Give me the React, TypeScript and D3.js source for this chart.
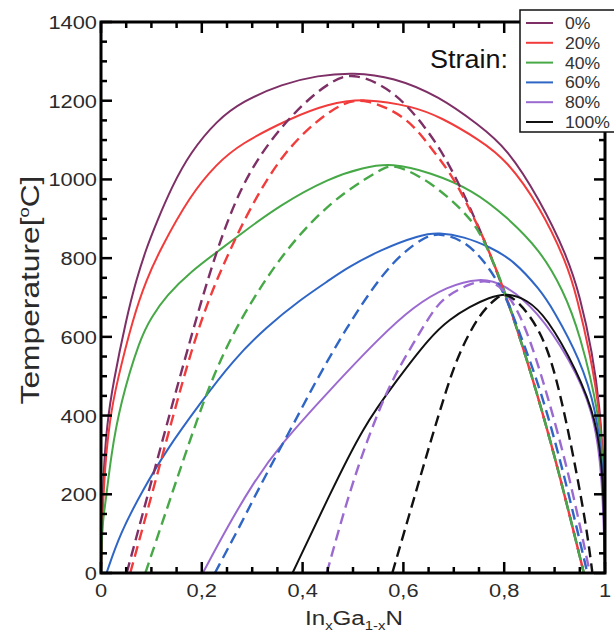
import React, { useEffect, useRef } from 'react';
import * as d3 from 'd3';

type Pt = [number, number];

// legend / series names
const strains = ['0%', '20%', '40%', '60%', '80%', '100%'];
const colors = ['#7d2f66', '#f23b3b', '#46a846', '#2f66c6', '#9b6ad0', '#111111'];

// binodal curves (solid) : [x, T]
const binodal0: Pt[] = [[0, 0], [0.004, 250], [0.012, 380], [0.024, 482], [0.05, 645], [0.07, 745], [0.09, 825], [0.11, 890], [0.14, 980], [0.177, 1068], [0.23, 1150], [0.28, 1198], [0.36, 1243], [0.43, 1264], [0.5, 1272], [0.58, 1260], [0.67, 1212], [0.75, 1138], [0.805, 1080], [0.87, 950], [0.925, 805], [0.95, 705], [0.975, 560], [0.99, 420], [0.998, 260], [1, 0]];
const binodal20: Pt[] = [[0, 0], [0.005, 240], [0.018, 397], [0.031, 482], [0.064, 650], [0.09, 745], [0.117, 821], [0.177, 960], [0.23, 1040], [0.276, 1090], [0.375, 1155], [0.45, 1192], [0.524, 1207], [0.62, 1185], [0.673, 1159], [0.752, 1100], [0.805, 1049], [0.871, 931], [0.924, 788], [0.944, 702], [0.97, 560], [0.99, 410], [0.998, 250], [1, 0]];
const binodal40: Pt[] = [[0, 0], [0.002, 120], [0.008, 168], [0.02, 300], [0.038, 430], [0.077, 595], [0.1, 650], [0.13, 705], [0.177, 765], [0.243, 828], [0.276, 860], [0.355, 935], [0.454, 1004], [0.52, 1030], [0.577, 1042], [0.653, 1018], [0.738, 973], [0.805, 905], [0.871, 821], [0.917, 719], [0.95, 610], [0.99, 396], [0.998, 250], [1, 0]];
const binodal60: Pt[] = [[0.011, 0], [0.038, 101], [0.083, 211], [0.13, 313], [0.196, 430], [0.262, 541], [0.329, 626], [0.395, 694], [0.454, 745], [0.488, 775], [0.554, 821], [0.633, 859], [0.67, 865], [0.72, 855], [0.772, 828], [0.818, 795], [0.871, 720], [0.897, 670], [0.95, 545], [0.983, 414], [0.998, 250], [1, 0]];
const binodal80: Pt[] = [[0.202, 0], [0.25, 115], [0.3, 225], [0.355, 325], [0.454, 465], [0.554, 600], [0.62, 677], [0.686, 728], [0.752, 750], [0.798, 736], [0.865, 668], [0.931, 541], [0.977, 414], [0.995, 250], [1, 0]];
const binodal100: Pt[] = [[0.38, 0], [0.454, 200], [0.52, 372], [0.587, 490], [0.653, 600], [0.692, 645], [0.732, 677], [0.77, 700], [0.805, 712], [0.845, 695], [0.884, 651], [0.944, 516], [0.983, 389], [0.997, 250], [1, 0]];

// spinodal curves (dashed)
const spinodal0: Pt[] = [[0.051, 0], [0.09, 185], [0.13, 375], [0.17, 560], [0.222, 795], [0.276, 981], [0.335, 1100], [0.401, 1194], [0.46, 1253], [0.503, 1272], [0.58, 1227], [0.64, 1140], [0.69, 1045], [0.75, 880], [0.805, 705], [0.865, 460], [0.911, 245], [0.958, 0]];
const spinodal20: Pt[] = [[0.058, 0], [0.1, 195], [0.14, 385], [0.18, 570], [0.215, 700], [0.245, 790], [0.296, 930], [0.361, 1067], [0.429, 1151], [0.48, 1195], [0.524, 1207], [0.607, 1160], [0.653, 1083], [0.699, 1007], [0.732, 922], [0.76, 850], [0.805, 705], [0.865, 460], [0.911, 245], [0.958, 0]];
const spinodal40: Pt[] = [[0.088, 0], [0.13, 160], [0.17, 313], [0.216, 482], [0.262, 610], [0.309, 711], [0.355, 800], [0.421, 900], [0.488, 973], [0.554, 1024], [0.58, 1042], [0.653, 995], [0.718, 922], [0.752, 868], [0.78, 785], [0.805, 705], [0.865, 460], [0.911, 245], [0.958, 0]];
const spinodal60: Pt[] = [[0.226, 0], [0.276, 120], [0.315, 220], [0.355, 315], [0.395, 410], [0.421, 475], [0.488, 626], [0.554, 753], [0.6, 815], [0.64, 852], [0.67, 865], [0.72, 845], [0.76, 795], [0.8, 715], [0.83, 612], [0.875, 457], [0.92, 245], [0.965, 0]];
const spinodal80: Pt[] = [[0.448, 0], [0.488, 185], [0.527, 335], [0.573, 482], [0.62, 584], [0.66, 670], [0.686, 705], [0.732, 735], [0.765, 746], [0.8, 725], [0.84, 640], [0.885, 457], [0.93, 245], [0.97, 0]];
const spinodal100: Pt[] = [[0.578, 0], [0.62, 185], [0.653, 330], [0.686, 470], [0.712, 565], [0.752, 660], [0.785, 700], [0.805, 714], [0.845, 668], [0.884, 584], [0.911, 457], [0.937, 300], [0.963, 120], [0.975, 0]];

const binodals = [binodal0, binodal20, binodal40, binodal60, binodal80, binodal100];
const spinodals = [spinodal0, spinodal20, spinodal40, spinodal60, spinodal80, spinodal100];

const xMajor = [0, 0.2, 0.4, 0.6, 0.8, 1];
const xLabels = ['0', '0,2', '0,4', '0,6', '0,8', '1'];
const yMajor = [0, 200, 400, 600, 800, 1000, 1200, 1400];

const W = 614, H = 632;
const FONT = 'Liberation Sans, Arial, sans-serif';
const SX = 1.15; // horizontal stretch of text in the reference

export default function App() {
  const svgRef = useRef<SVGSVGElement>(null);

  useEffect(() => {
    const svg = d3.select(svgRef.current);
    svg.selectAll('*').remove();

    const left = 101, right = 605, top = 22, bottom = 573;
    const x = d3.scaleLinear().domain([0, 1]).range([left, right]);
    const y = d3.scaleLinear().domain([0, 1400]).range([bottom, top]);

    const line = d3.line<Pt>().x(d => x(d[0])).y(d => y(d[1])).curve(d3.curveBasis);

    const g = svg.append('g');

    // curves
    binodals.forEach((data, i) => {
      g.append('path').attr('d', line(data)).attr('fill', 'none')
        .attr('stroke', colors[i]).attr('stroke-width', 2);
    });
    spinodals.forEach((data, i) => {
      g.append('path').attr('d', line(data)).attr('fill', 'none')
        .attr('stroke', colors[i]).attr('stroke-width', 2.4)
        .attr('stroke-dasharray', '11,6');
    });

    // frame
    const ax = svg.append('g').attr('stroke', '#000').attr('fill', 'none');
    ax.append('rect').attr('x', left).attr('y', top).attr('width', right - left).attr('height', bottom - top)
      .attr('stroke-width', 3);

    const xMinor = d3.range(0, 1.0001, 0.05);
    const yMinor = d3.range(0, 1400.1, 50);
    const isMajorX = (v: number) => xMajor.some(m => Math.abs(m - v) < 1e-6);
    const isMajorY = (v: number) => yMajor.some(m => Math.abs(m - v) < 1e-6);

    xMinor.forEach(v => {
      const len = isMajorX(v) ? 11 : 6;
      ax.append('line').attr('x1', x(v)).attr('x2', x(v)).attr('y1', bottom).attr('y2', bottom - len).attr('stroke-width', 2.5);
      ax.append('line').attr('x1', x(v)).attr('x2', x(v)).attr('y1', top).attr('y2', top + len).attr('stroke-width', 2.5);
    });
    yMinor.forEach(v => {
      const len = isMajorY(v) ? 11 : 6;
      ax.append('line').attr('y1', y(v)).attr('y2', y(v)).attr('x1', left).attr('x2', left + len).attr('stroke-width', 2.5);
      ax.append('line').attr('y1', y(v)).attr('y2', y(v)).attr('x1', right).attr('x2', right - len).attr('stroke-width', 2.5);
    });

    // tick labels
    const txt = svg.append('g').attr('font-family', FONT).attr('fill', '#2a2a2a');
    xMajor.forEach((v, i) => {
      txt.append('text').attr('transform', `translate(${x(v)},597) scale(${SX},1)`)
        .attr('text-anchor', 'middle').attr('font-size', 19).text(xLabels[i]);
    });
    yMajor.forEach(v => {
      txt.append('text').attr('transform', `translate(97,${y(v) + 7}) scale(${SX},1)`)
        .attr('text-anchor', 'end').attr('font-size', 19).text(String(v));
    });

    // axis titles
    const xt = txt.append('text').attr('transform', `translate(354,625) scale(${SX},1)`)
      .attr('text-anchor', 'middle').attr('font-size', 21);
    xt.append('tspan').text('In');
    xt.append('tspan').attr('font-size', 13).attr('dy', 5).text('x');
    xt.append('tspan').attr('dy', -5).text('Ga');
    xt.append('tspan').attr('font-size', 13).attr('dy', 5).text('1-x');
    xt.append('tspan').attr('dy', -5).text('N');

    const yt = txt.append('text').attr('transform', `translate(39,290) rotate(-90) scale(1.22,1)`)
      .attr('text-anchor', 'middle').attr('font-size', 26);
    yt.append('tspan').text('Temperature[');
    yt.append('tspan').attr('font-size', 15).attr('dy', -10).text('o');
    yt.append('tspan').attr('dy', 10).text('C]');

    // legend
    const lg = svg.append('g');
    lg.append('rect').attr('x', 520).attr('y', 10).attr('width', 110).attr('height', 122)
      .attr('fill', '#fff').attr('stroke', '#111').attr('stroke-width', 1.5);
    strains.forEach((s, i) => {
      const ly = 23 + i * 19.8;
      lg.append('line').attr('x1', 526).attr('x2', 553).attr('y1', ly).attr('y2', ly)
        .attr('stroke', colors[i]).attr('stroke-width', 2);
      lg.append('text').attr('transform', `translate(565,${ly + 6}) scale(1.1,1)`)
        .attr('font-family', FONT).attr('font-size', 16).attr('fill', '#333').text(s);
    });
    svg.append('text').attr('transform', `translate(430,68) scale(1.08,1)`)
      .attr('font-family', FONT).attr('font-size', 25).attr('fill', '#111').text('Strain:');
  }, []);

  return (
    <svg ref={svgRef} width={W} height={H}
      style={{ position: 'absolute', left: 0, top: 0, background: '#fff' }} />
  );
}
